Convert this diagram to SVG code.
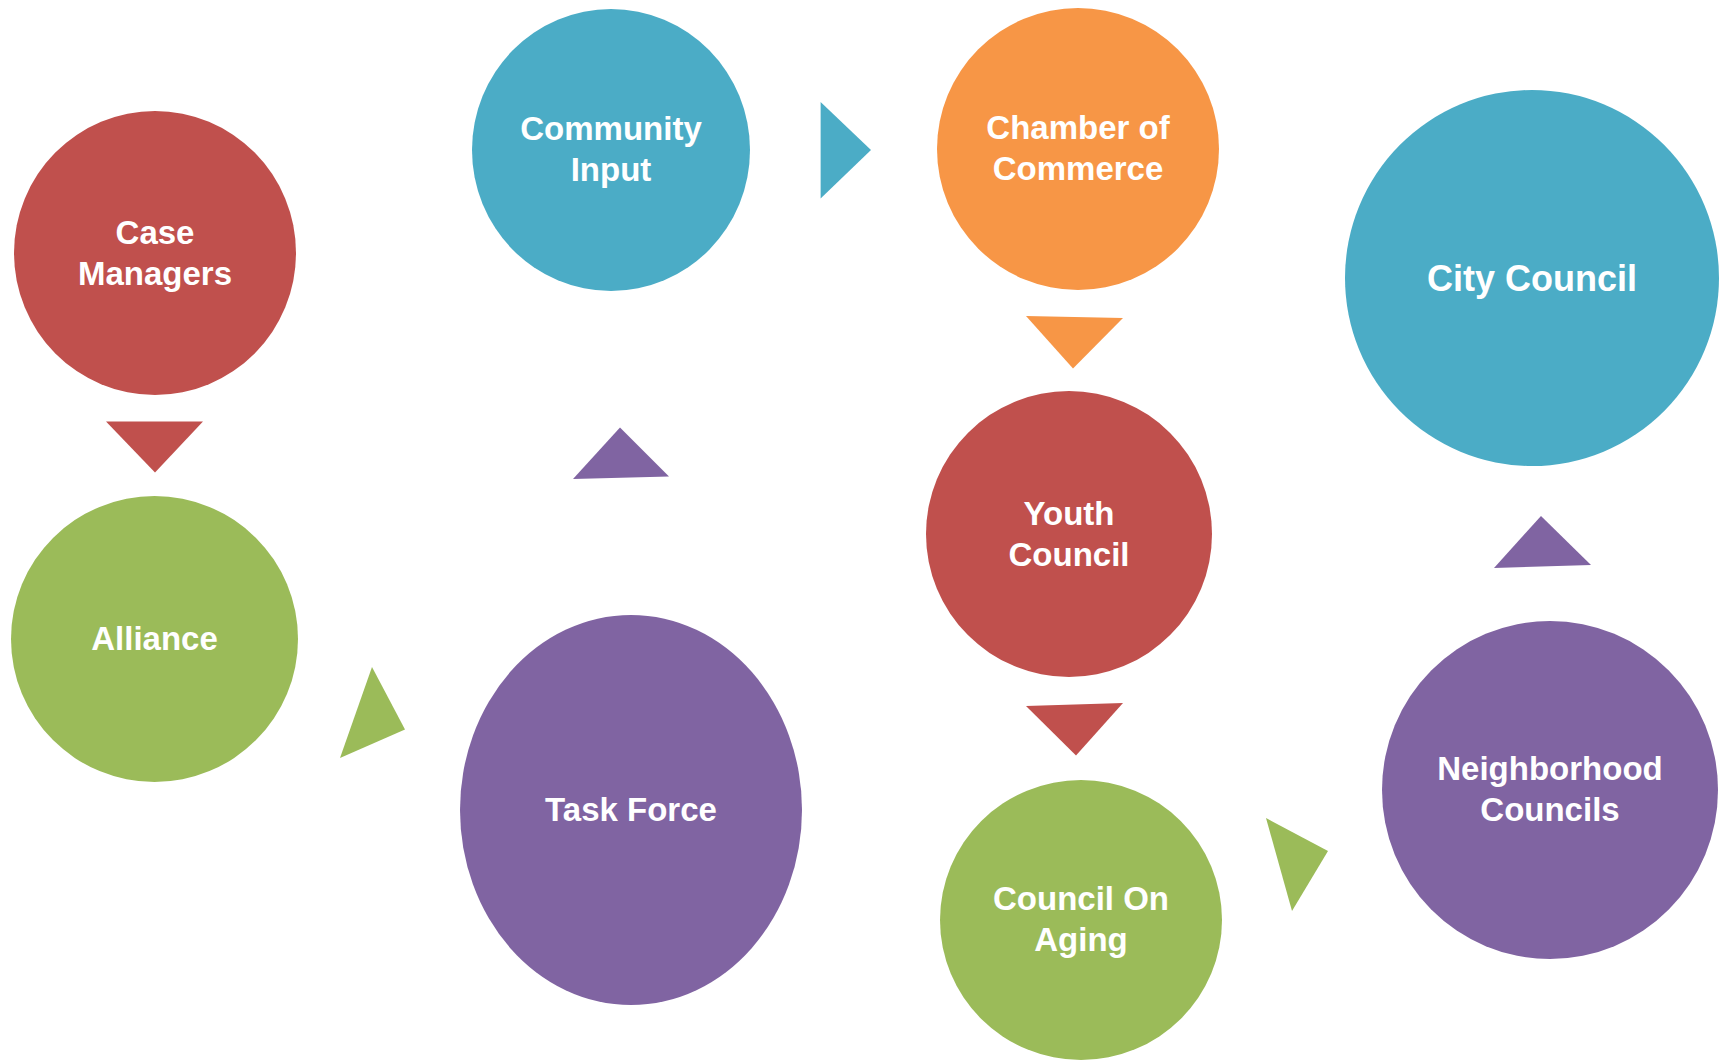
<svg xmlns="http://www.w3.org/2000/svg" width="1720" height="1060" viewBox="0 0 1720 1060">
<style>
.lbl{font-family:"Liberation Sans",Arial,sans-serif;font-weight:bold;font-size:33px;fill:#FFFFFF;text-anchor:middle}
.big{font-size:36px}
.red{fill:#C0504D}.green{fill:#9BBB59}.blue{fill:#4BACC6}.orange{fill:#F79646}.purple{fill:#8064A2}
</style>
<rect width="1720" height="1060" fill="#FFFFFF"/>
<g id="connectors">
<polygon class="red" points="106,421.5 203,421.5 155,472.5"/>
<polygon class="green" points="372,667 405,729.5 340,758"/>
<polygon class="purple" points="620,427.5 669,476.6 573,479"/>
<polygon class="blue" points="820.6,102 871,150 820.6,198.6"/>
<polygon class="orange" points="1026,316 1123,318 1073,368.5"/>
<polygon class="red" points="1026,706 1123,703 1076,755.5"/>
<polygon class="green" points="1266,818 1328,851 1292,911"/>
<polygon class="purple" points="1541,516 1591,565 1494,568"/>
</g>
<g id="case-managers">
<ellipse class="red" cx="155" cy="253" rx="141" ry="142"/>
<text class="lbl" x="155" y="244">Case</text>
<text class="lbl" x="155" y="285">Managers</text>
</g>
<g id="alliance">
<ellipse class="green" cx="154.5" cy="639" rx="143.5" ry="143"/>
<text class="lbl" x="154.5" y="650">Alliance</text>
</g>
<g id="task-force">
<ellipse class="purple" cx="631" cy="810" rx="171" ry="195"/>
<text class="lbl" x="631" y="821">Task Force</text>
</g>
<g id="community-input">
<ellipse class="blue" cx="611" cy="150" rx="139" ry="141"/>
<text class="lbl" x="611" y="140">Community</text>
<text class="lbl" x="611" y="181">Input</text>
</g>
<g id="chamber-of-commerce">
<ellipse class="orange" cx="1078" cy="149" rx="141" ry="141"/>
<text class="lbl" x="1078" y="139">Chamber of</text>
<text class="lbl" x="1078" y="180">Commerce</text>
</g>
<g id="youth-council">
<ellipse class="red" cx="1069" cy="534" rx="143" ry="143"/>
<text class="lbl" x="1069" y="525">Youth</text>
<text class="lbl" x="1069" y="566">Council</text>
</g>
<g id="council-on-aging">
<ellipse class="green" cx="1081" cy="920" rx="141" ry="140"/>
<text class="lbl" x="1081" y="910">Council On</text>
<text class="lbl" x="1081" y="951">Aging</text>
</g>
<g id="neighborhood-councils">
<ellipse class="purple" cx="1550" cy="790" rx="168" ry="169"/>
<text class="lbl" x="1550" y="780">Neighborhood</text>
<text class="lbl" x="1550" y="821">Councils</text>
</g>
<g id="city-council">
<ellipse class="blue" cx="1532" cy="278" rx="187" ry="188"/>
<text class="lbl big" x="1532" y="291">City Council</text>
</g>
</svg>
